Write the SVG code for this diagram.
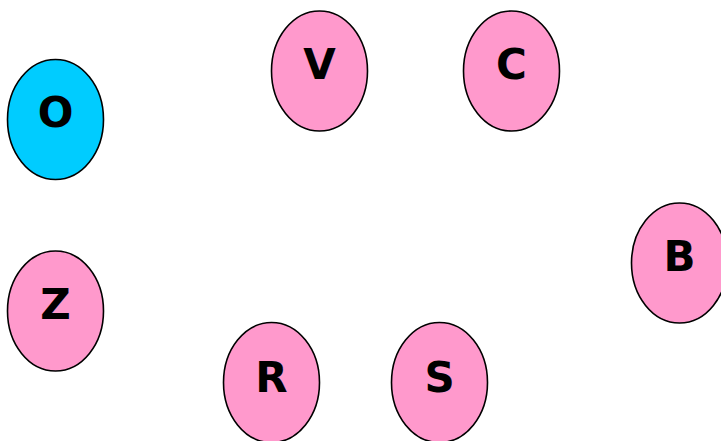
<svg xmlns="http://www.w3.org/2000/svg" width="721" height="441" viewBox="0 0 721 441">
<style>
.n ellipse{fill:#ff99cc;stroke:#000;stroke-width:1.6}
.n.o ellipse{fill:#00ccff}
.n text{font-family:"DejaVu Sans",sans-serif;font-weight:bold;font-size:42px;fill:#000;text-anchor:middle}
</style>
<rect width="721" height="441" fill="#fff"/>
<g id="connectors"></g>
<g id="O" class="n o"><ellipse cx="55.5" cy="119.5" rx="48" ry="60"/><text x="55.5" y="127">O</text></g>
<g id="V" class="n"><ellipse cx="319.5" cy="71" rx="48" ry="60"/><text x="319.5" y="78.5">V</text></g>
<g id="C" class="n"><ellipse cx="511.5" cy="71" rx="48" ry="60"/><text x="511.5" y="78.5">C</text></g>
<g id="B" class="n"><ellipse cx="679.5" cy="263" rx="48" ry="60"/><text x="679.5" y="271">B</text></g>
<g id="Z" class="n"><ellipse cx="55.5" cy="311" rx="48" ry="60"/><text x="55.5" y="319">Z</text></g>
<g id="R" class="n"><ellipse cx="271.5" cy="382.5" rx="48" ry="60"/><text x="271.5" y="391.5">R</text></g>
<g id="S" class="n"><ellipse cx="439.5" cy="382.5" rx="48" ry="60"/><text x="439.5" y="391.5">S</text></g>
</svg>
